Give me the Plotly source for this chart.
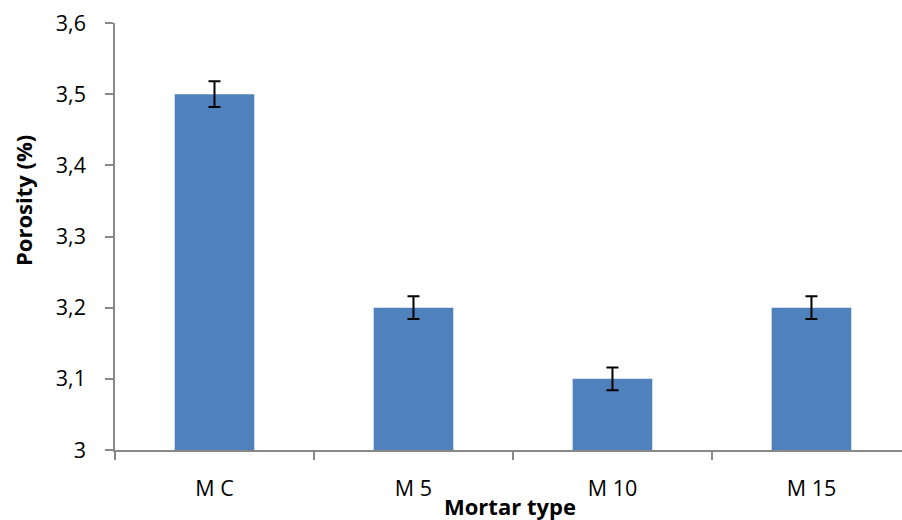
import plotly.graph_objects as go

categories = ["M C", "M 5", "M 10", "M 15"]
porosity = [3.5, 3.2, 3.1, 3.2]
errors = [0.018, 0.016, 0.016, 0.016]
y_ticks = [3.0, 3.1, 3.2, 3.3, 3.4, 3.5, 3.6]
y_tick_labels = ["3", "3,1", "3,2", "3,3", "3,4", "3,5", "3,6"]

FONT = "Open Sans"
AXIS_COLOR = "#888888"
W, H = 902, 520
L, R, T, B = 115, 0, 23, 70

fig = go.Figure()
fig.add_trace(go.Bar(
    x=categories,
    y=porosity,
    width=0.4,
    marker=dict(color="#4F81BD", line=dict(width=0)),
    error_y=dict(type="data", array=errors, visible=True,
                 color="black", thickness=2, width=6),
))

pw = W - L - R
ph = H - T - B

fig.update_layout(
    width=W, height=H,
    margin=dict(l=L, r=R, t=T, b=B),
    paper_bgcolor="white", plot_bgcolor="white",
    showlegend=False,
    font=dict(family=FONT, size=21, color="black"),
    xaxis=dict(
        range=[-0.5, 3.455],
        showline=True, linecolor=AXIS_COLOR, linewidth=1.5,
        ticks="outside", tickson="boundaries", ticklen=8,
        tickcolor=AXIS_COLOR, tickwidth=1.5,
        showgrid=False, zeroline=False,
        tickfont=dict(family=FONT, size=21.5),
        ticklabelstandoff=18,
    ),
    yaxis=dict(
        range=[3.0, 3.6],
        tickvals=y_ticks, ticktext=y_tick_labels,
        showline=True, linecolor=AXIS_COLOR, linewidth=1.5,
        ticks="outside", ticklen=8, tickcolor=AXIS_COLOR, tickwidth=1.5,
        showgrid=False, zeroline=False,
        tickfont=dict(family=FONT, size=21.5),
        ticklabelstandoff=15,
    ),
    annotations=[
        dict(text="<b>Porosity (%)</b>", x=(23 - L) / pw, y=(H - B - 201) / ph,
             xref="paper", yref="paper",
             showarrow=False, textangle=-90, font=dict(family=FONT, size=22),
             xanchor="center", yanchor="middle"),
        dict(text="<b>Mortar type</b>", x=(510 - L) / pw, y=(H - B - 506) / ph,
             xref="paper", yref="paper",
             showarrow=False, font=dict(family=FONT, size=22),
             xanchor="center", yanchor="middle"),
    ],
)

fig.write_html("out.html", config={"displayModeBar": False},
               post_script="document.body.style.margin='0';")
